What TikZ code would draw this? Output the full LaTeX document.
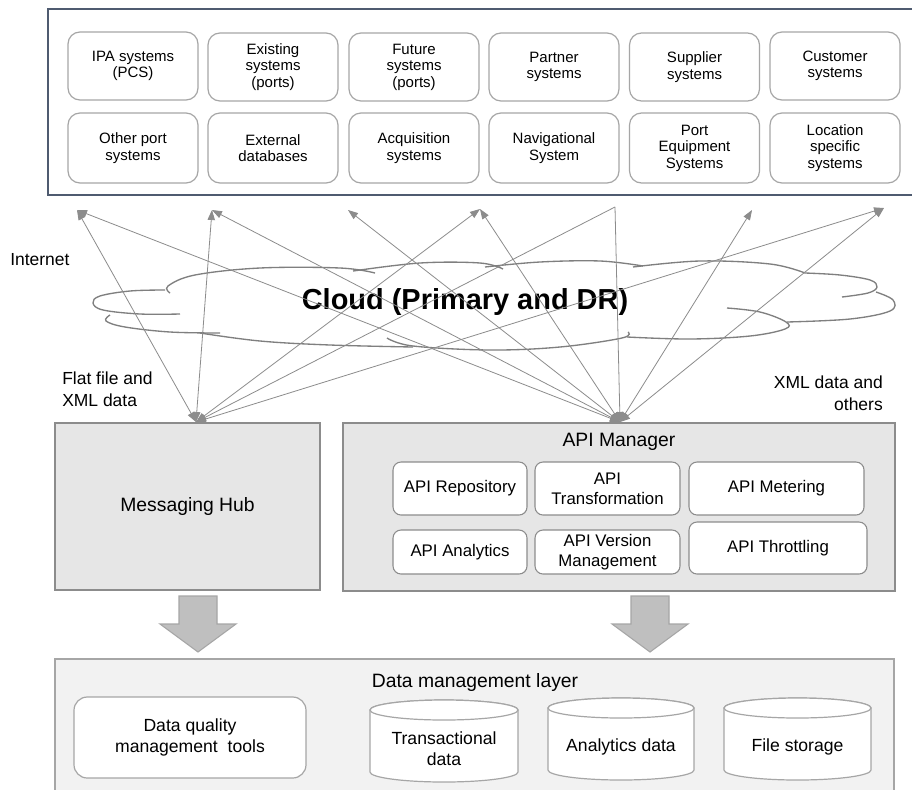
\documentclass[tikz,border=0pt]{standalone}
\usepackage{fontspec}
\setmainfont{Liberation Sans}
\usetikzlibrary{arrows.meta}
\definecolor{frameblue}{HTML}{4F5B70}
\definecolor{boxgray}{HTML}{A6A6A6}
\definecolor{edgegray}{HTML}{8C8C8C}
\definecolor{hubfill}{HTML}{E6E6E6}
\definecolor{dmfill}{HTML}{F2F2F2}
\definecolor{arrowfill}{HTML}{BFBFBF}
\definecolor{linegray}{HTML}{8C8C8C}
\definecolor{cloudgray}{HTML}{7F7F7F}
\begin{document}
\begin{tikzpicture}[x=0.75pt,y=-0.75pt,
  sysbox/.style={draw=boxgray, line width=0.9pt, fill=white, rounded corners=9pt,
    minimum width=97.5pt, align=center, inner sep=0pt,
    font=\fontsize{11.25}{12.3}\selectfont},
  lbl/.style={inner sep=0pt, font=\fontsize{13.1}{16.3}\selectfont},
  bigtitle/.style={inner sep=0pt, font=\fontsize{14.5}{17}\selectfont},
  layerbox/.style={draw=edgegray, line width=0.9pt, fill=hubfill, inner sep=0pt},
  apibox/.style={draw=edgegray, line width=0.8pt, fill=white, rounded corners=6pt,
    align=center, inner sep=0pt, font=\fontsize{12.6}{15}\selectfont},
  dqbox/.style={draw=boxgray, line width=0.9pt, fill=white, rounded corners=10pt,
    align=center, inner sep=0pt, font=\fontsize{13.2}{15.5}\selectfont},
  cyltext/.style={align=center, inner sep=0pt, font=\fontsize{13.2}{15.5}\selectfont},
  cyl/.style={draw=boxgray, line width=0.9pt, fill=white},
  fatarrow/.style={draw=boxgray, line width=0.8pt, fill=arrowfill},
  cloudline/.style={draw=cloudgray, line width=1pt},
  conn/.style={draw=linegray, line width=0.6pt,
    {Triangle[length=7.5pt,width=5.5pt]}-{Triangle[length=7.5pt,width=5.5pt]}},
  connhalf/.style={draw=linegray, line width=0.6pt,
    {Triangle[length=7.5pt,width=5.5pt]}-}
]
\clip (0,0) rectangle (912,789);
\fill[white] (0,0) rectangle (912,789);

% ---- external systems frame ----
\draw[draw=frameblue, line width=1.1pt] (48,9) rectangle (940,195);

\node[sysbox, minimum height=51pt] (ipa) at (133,66) {IPA systems\\(PCS)};
\node[sysbox, minimum height=51pt] (exist) at (273,67) {Existing\\systems\\(ports)};
\node[sysbox, minimum height=51pt] (future) at (414,67) {Future\\systems\\(ports)};
\node[sysbox, minimum height=51pt] (partner) at (554,67) {Partner\\systems};
\node[sysbox, minimum height=51pt] (supplier) at (694.5,67) {Supplier\\systems};
\node[sysbox, minimum height=51pt] (customer) at (835,66) {Customer\\systems};

\node[sysbox, minimum height=52.5pt] (other) at (133,148) {Other port\\systems};
\node[sysbox, minimum height=52.5pt] (extdb) at (273,148) {External\\databases};
\node[sysbox, minimum height=52.5pt] (acq) at (414,148) {Acquisition\\systems};
\node[sysbox, minimum height=52.5pt] (nav) at (554,148) {Navigational\\System};
\node[sysbox, minimum height=52.5pt] (porteq) at (694.5,148) {Port\\Equipment\\Systems};
\node[sysbox, minimum height=52.5pt] (loc) at (835,148) {Location\\specific\\systems};

% ---- cloud ----
\draw[cloudline] plot[smooth, tension=0.6] coordinates {(165,290) (130,291) (100,296) (93,303) (103,310) (140,314) (180,314)};
\draw[cloudline] plot[smooth, tension=0.6] coordinates {(110,315) (106,321) (125,327) (170,332) (220,333)};
\draw[cloudline] plot[smooth, tension=0.6] coordinates {(200,333) (260,341) (330,345) (413,347)};
\draw[cloudline] plot[smooth, tension=0.6] coordinates {(387,338) (413,346) (490,350) (560,347) (622,338) (628,332)};
\draw[cloudline] plot[smooth, tension=0.6] coordinates {(627,337) (690,339) (750,336) (785,329) (786,322) (760,312) (727,308)};
\draw[cloudline] plot[smooth, tension=0.6] coordinates {(787,322) (850,319) (890,311) (893,300) (876,292)};
\draw[cloudline] plot[smooth, tension=0.6] coordinates {(842,297) (868,293) (877,287) (870,280) (840,275) (805,273)};
\draw[cloudline] plot[smooth, tension=0.6] coordinates {(805,273) (770,264) (700,261) (633,267)};
\draw[cloudline] plot[smooth, tension=0.6] coordinates {(643,266) (600,261) (540,262) (485,267)};
\draw[cloudline] plot[smooth, tension=0.6] coordinates {(503,269) (480,263) (420,263) (353,271)};
\draw[cloudline] plot[smooth, tension=0.6] coordinates {(375,273) (340,268) (260,268) (195,275) (168,286) (170,293)};

\node[inner sep=0pt, font=\bfseries\fontsize{21.7}{26}\selectfont] (cloudtxt) at (465,302) {Cloud (Primary and DR)};

% ---- labels ----
\node[lbl, anchor=west] (internet) at (10,260) {Internet};
\node[lbl, anchor=west, align=left] (flat) at (62,389) {Flat file and\\XML data};
\node[lbl, anchor=east, align=right] (xmlo) at (883,393) {XML data and\\others};

% ---- middle layer ----
\node[layerbox, minimum width=198.75pt, minimum height=125.25pt, font=\fontsize{14.5}{17}\selectfont] (hub) at (187.5,506.5) {Messaging Hub};
\node[layerbox, minimum width=414pt, minimum height=126pt] (apim) at (619,507) {};
\node[bigtitle] (apititle) at (619,442) {API Manager};

\node[apibox, minimum width=100.5pt, minimum height=39.75pt] (repo) at (460,488.5) {API Repository};
\node[apibox, minimum width=108.75pt, minimum height=39.75pt] (trans) at (607.5,488.5) {API\\Transformation};
\node[apibox, minimum width=131.25pt, minimum height=39.75pt] (meter) at (776.5,488.5) {API Metering};
\node[apibox, minimum width=100.5pt, minimum height=33pt] (analyt) at (460,552) {API Analytics};
\node[apibox, minimum width=108.75pt, minimum height=33pt] (version) at (607.5,552) {API Version\\Management};
\node[apibox, minimum width=133.5pt, minimum height=39pt] (throt) at (778,548) {API Throttling};

% ---- fat arrows ----
\draw[fatarrow] (179,596) -- (217,596) -- (217,624) -- (236,624) -- (198,652) -- (160,624) -- (179,624) -- cycle;
\draw[fatarrow] (631,596) -- (669,596) -- (669,624) -- (688,624) -- (650,652) -- (612,624) -- (631,624) -- cycle;

% ---- data management layer ----
\node[draw=boxgray, line width=0.9pt, fill=dmfill, minimum width=629.25pt, minimum height=105pt, inner sep=0pt] (dml) at (474.5,729) {};
\node[bigtitle] (dmltitle) at (475,682) {Data management layer};
\node[dqbox, minimum width=174pt, minimum height=60.75pt] (dq) at (190,737.5) {Data quality\\management\ \ tools};

\draw[cyl] (370,710) -- (370,772) arc[start angle=180,end angle=0,x radius=74,y radius=10] -- (518,710) arc[start angle=0,end angle=-180,x radius=74,y radius=10] -- cycle;
\draw[cyl] (444,710) ellipse[x radius=74,y radius=10];
\node[cyltext] (trx) at (444,749) {Transactional\\data};

\draw[cyl] (548,708) -- (548,770) arc[start angle=180,end angle=0,x radius=73,y radius=10] -- (694,708) arc[start angle=0,end angle=-180,x radius=73,y radius=10] -- cycle;
\draw[cyl] (621,708) ellipse[x radius=73,y radius=10];
\node[cyltext] (anl) at (621,747) {Analytics data};

\draw[cyl] (724,708) -- (724,770) arc[start angle=180,end angle=0,x radius=73.5,y radius=10] -- (871,708) arc[start angle=0,end angle=-180,x radius=73.5,y radius=10] -- cycle;
\draw[cyl] (797.5,708) ellipse[x radius=73.5,y radius=10];
\node[cyltext] (fst) at (797.5,747) {File storage};

% ---- connectors ----
\coordinate (t1) at (77,210);
\coordinate (t2) at (212,210);
\coordinate (t3) at (348,210);
\coordinate (t4) at (480,209);
\coordinate (t5) at (615,207);
\coordinate (t6) at (752,210);
\coordinate (t7) at (884,208);
\coordinate (m) at (196,422);
\coordinate (a) at (620,422);

\draw[conn] (m) -- (t1);
\draw[conn] (m) -- (t2);
\draw[conn] (m) -- (t4);
\draw[connhalf] (m) -- (t5);
\draw[conn] (m) -- (t7);

\draw[conn] (a) -- (t1);
\draw[conn] (a) -- (t2);
\draw[conn] (a) -- (t3);
\draw[conn] (a) -- (t4);
\draw[connhalf] (a) -- (t5);
\draw[conn] (a) -- (t6);
\draw[conn] (a) -- (t7);
\end{tikzpicture}
\end{document}
